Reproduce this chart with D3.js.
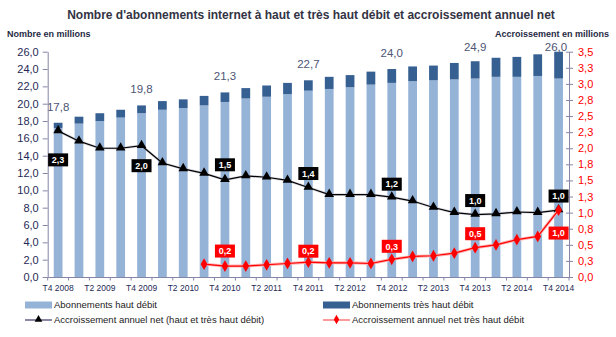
<!DOCTYPE html>
<html><head><meta charset="utf-8">
<script src="https://cdn.jsdelivr.net/npm/d3@7"></script>
<style>
html,body{margin:0;padding:0;background:#fff;}
svg{display:block;font-family:"Liberation Sans",Arial,sans-serif;}
</style></head>
<body>
<script>
// ---- data ----
const quarters = ["T4 2008","T1 2009","T2 2009","T3 2009","T4 2009","T1 2010","T2 2010","T3 2010","T4 2010","T1 2011","T2 2011","T3 2011","T4 2011","T1 2012","T2 2012","T3 2012","T4 2012","T1 2013","T2 2013","T3 2013","T4 2013","T1 2014","T2 2014","T3 2014","T4 2014"];
const tickQuarters = ["T4 2008","T2 2009","T4 2009","T2 2010","T4 2010","T2 2011","T4 2011","T2 2012","T4 2012","T2 2013","T4 2013","T2 2014","T4 2014"];
const highSpeed = [17.2,17.7,18.0,18.4,18.9,19.3,19.5,19.8,20.2,20.6,20.8,21.1,21.5,21.7,21.9,22.2,22.4,22.6,22.7,22.8,22.9,23.1,23.1,23.2,22.9];
const veryHighSpeed = [0.6,0.8,0.9,0.9,0.9,1.0,1.0,1.1,1.1,1.2,1.3,1.3,1.2,1.4,1.4,1.5,1.6,1.7,1.7,1.9,2.0,2.2,2.3,2.5,3.1];
const growthTotal = [2.27,2.11,2.00,2.00,2.04,1.77,1.68,1.61,1.51,1.57,1.55,1.50,1.39,1.28,1.28,1.28,1.24,1.18,1.08,1.00,0.97,0.98,1.01,1.00,1.04];
const growthVeryHigh = [null,null,null,null,null,null,null,0.20,0.17,0.17,0.19,0.21,0.23,0.22,0.22,0.21,0.275,0.32,0.33,0.37,0.455,0.50,0.58,0.63,1.04];
const leftTicks = [0,2,4,6,8,10,12,14,16,18,20,22,24,26];
const rightTicks = [0,0.25,0.5,0.75,1,1.25,1.5,1.75,2,2.25,2.5,2.75,3,3.25,3.5];
const labelledQuarters = [0,4,8,12,16,20,24];

// ---- layout / style ----
const W = 616, H = 337;
const plot = {left:47.7, right:569, top:51.7, bottom:277};
const blackDy = {0:29,4:20,8:-15,12:-14,16:-13,20:-14,24:-14};
const redDy = {8:-15,12:-11,16:-13,20:-14,24:23};
const C = {light:"#95B3D7", dark:"#376092", axis:"#8585a8", tickText:"#1f2a55", red:"#ff0000", valueText:"#4d5575", title:"#333344"};
const fmt = v => d3.format(".1f")(v).replace(".", ",");

const svg = d3.select("body").append("svg").attr("width",W).attr("height",H);

const x = d3.scaleBand().domain(quarters).range([plot.left, plot.right]).paddingInner(0.58).paddingOuter(0.29);
const yL = d3.scaleLinear().domain([0,26]).range([plot.bottom, plot.top]);
const yR = d3.scaleLinear().domain([0,3.5]).range([plot.bottom, plot.top]);
const cx = q => x(q) + x.bandwidth()/2;

// title
svg.append("text").attr("x",311).attr("y",19).attr("text-anchor","middle")
  .attr("font-size","12px").attr("font-weight","bold").attr("fill",C.title)
  .text("Nombre d'abonnements internet à haut et très haut débit et accroissement annuel net");
svg.append("text").attr("x",7).attr("y",37).attr("font-size","9px").attr("font-weight","bold").attr("fill","#1f2a44")
  .text("Nombre en millions");
svg.append("text").attr("x",609).attr("y",37).attr("text-anchor","end").attr("font-size","9px").attr("font-weight","bold").attr("fill","#1f2a44")
  .text("Accroissement en millions");

// bars
const stackData = quarters.map((q,i)=>({q, high:highSpeed[i], vhigh:veryHighSpeed[i]}));
const series = d3.stack().keys(["high","vhigh"])(stackData);
svg.append("g").selectAll("g").data(series).join("g")
  .attr("fill",(d,i)=> i===0?C.light:C.dark)
  .selectAll("rect").data(d=>d).join("rect")
  .attr("x",d=>x(d.data.q)).attr("width",x.bandwidth())
  .attr("y",d=>yL(d[1])).attr("height",d=>yL(d[0])-yL(d[1]));

// totals labels
svg.append("g").selectAll("text").data(labelledQuarters).join("text")
  .attr("x",i=>Math.min(cx(quarters[i]), plot.right-13))
  .attr("y",i=>Math.max(yL(highSpeed[i]+veryHighSpeed[i])-16, 46.5)+4)
  .attr("text-anchor","middle").attr("font-size","11.5px").attr("fill",C.valueText)
  .text(i=>fmt(highSpeed[i]+veryHighSpeed[i]));

// axes
const gL = svg.append("g").attr("transform",`translate(${plot.left},0)`)
  .call(d3.axisLeft(yL).tickValues(leftTicks).tickSize(5).tickSizeOuter(0).tickPadding(4).tickFormat(fmt));
gL.select(".domain").attr("stroke",C.axis);
gL.selectAll(".tick line").attr("stroke",C.axis);
gL.selectAll(".tick text").attr("fill",C.tickText).attr("font-size","11px").attr("font-family","Liberation Sans, Arial, sans-serif");

const gR = svg.append("g").attr("transform",`translate(${plot.right},0)`)
  .call(d3.axisRight(yR).tickValues(rightTicks).tickSize(4).tickSizeOuter(0).tickPadding(5).tickFormat(fmt));
gR.select(".domain").attr("stroke",C.axis);
gR.selectAll(".tick line").attr("stroke",C.axis).attr("x1",-3);
gR.selectAll(".tick text").attr("fill",C.red).attr("font-size","11px").attr("font-family","Liberation Sans, Arial, sans-serif");

const gX = svg.append("g").attr("transform",`translate(0,${plot.bottom})`)
  .call(d3.axisBottom(x).tickValues(tickQuarters).tickSize(0).tickPadding(8));
gX.select(".domain").attr("stroke",C.axis);
gX.selectAll(".tick text").attr("fill",C.tickText).attr("font-size","8.5px").attr("font-family","Liberation Sans, Arial, sans-serif");
// band-boundary ticks
svg.append("g").selectAll("line").data(d3.range(quarters.length+1)).join("line")
  .attr("x1",i=>plot.left+i*(plot.right-plot.left)/quarters.length)
  .attr("x2",i=>plot.left+i*(plot.right-plot.left)/quarters.length)
  .attr("y1",plot.bottom).attr("y2",plot.bottom+3.5).attr("stroke",C.axis);

// black line
const lineBlack = d3.line().x((d,i)=>cx(quarters[i])).y(d=>yR(d));
svg.append("path").datum(growthTotal).attr("d",lineBlack).attr("fill","none").attr("stroke","#b0b0c0").attr("stroke-width",2.6).attr("opacity",0.5);
svg.append("path").datum(growthTotal).attr("d",lineBlack).attr("fill","none").attr("stroke","#000").attr("stroke-width",1.2);
const tri = d3.symbol().type(d3.symbolTriangle).size(40);
svg.append("g").selectAll("path").data(growthTotal).join("path")
  .attr("d",tri).attr("fill","#000")
  .attr("transform",(d,i)=>`translate(${cx(quarters[i])},${yR(d)-0.5})`);

// red line
const redPts = growthVeryHigh.map((v,i)=>({v,i})).filter(d=>d.v!==null);
const lineRed = d3.line().x(d=>cx(quarters[d.i])).y(d=>yR(d.v));
svg.append("path").datum(redPts).attr("d",lineRed).attr("fill","none").attr("stroke","#ffb0b0").attr("stroke-width",3);
svg.append("path").datum(redPts).attr("d",lineRed).attr("fill","none").attr("stroke",C.red).attr("stroke-width",1.2);
const dia = d3.symbol().type(d3.symbolDiamond).size(40);
svg.append("g").selectAll("path").data(redPts).join("path")
  .attr("d",dia).attr("fill",C.red)
  .attr("transform",d=>`translate(${cx(quarters[d.i])},${yR(d.v)})`);

// data label boxes
function boxLabel(g, xc, yc, txt, fill){
  g.append("rect").attr("x",xc-10).attr("y",yc-6.5).attr("width",20).attr("height",13).attr("fill",fill);
  g.append("text").attr("x",xc).attr("y",yc+3.3).attr("text-anchor","middle").attr("font-size","9px")
    .attr("font-weight","bold").attr("fill","#fff").text(txt);
}
const gLab = svg.append("g");
labelledQuarters.forEach(i=>{
  boxLabel(gLab, cx(quarters[i]), yR(growthTotal[i])+blackDy[i], fmt(growthTotal[i]), "#000");
  if (growthVeryHigh[i]!==null) boxLabel(gLab, cx(quarters[i]), yR(growthVeryHigh[i])+redDy[i], fmt(growthVeryHigh[i]), C.red);
});

// legend
const lg = svg.append("g").attr("font-size","9.5px").attr("fill","#222");
const legendItems = [
  {col:0,row:0,type:"rect",color:C.light,label:"Abonnements haut débit"},
  {col:1,row:0,type:"rect",color:C.dark,label:"Abonnements très haut débit"},
  {col:0,row:1,type:"tri",color:"#000",label:"Accroissement annuel net (haut et très haut débit)"},
  {col:1,row:1,type:"dia",color:C.red,label:"Accroissement annuel net très haut débit"}
];
legendItems.forEach(it=>{
  const x0 = it.col===0?25:323, yc = it.row===0?305:320;
  if(it.type==="rect"){
    lg.append("rect").attr("x",x0).attr("y",yc-3.5).attr("width",27).attr("height",7).attr("fill",it.color);
  } else {
    lg.append("line").attr("x1",x0).attr("x2",x0+27).attr("y1",yc).attr("y2",yc)
      .attr("stroke",it.type==="tri"?"#6a6a90":"#ff8080").attr("stroke-width",1.6);
    lg.append("path").attr("d",(it.type==="tri"?tri:dia)()).attr("fill",it.color)
      .attr("transform",`translate(${x0+13.5},${yc-0.5}) scale(0.8)`);
  }
  lg.append("text").attr("x",x0+29).attr("y",yc+3.4).attr("fill","#222").text(it.label);
});
</script>
</body></html>
